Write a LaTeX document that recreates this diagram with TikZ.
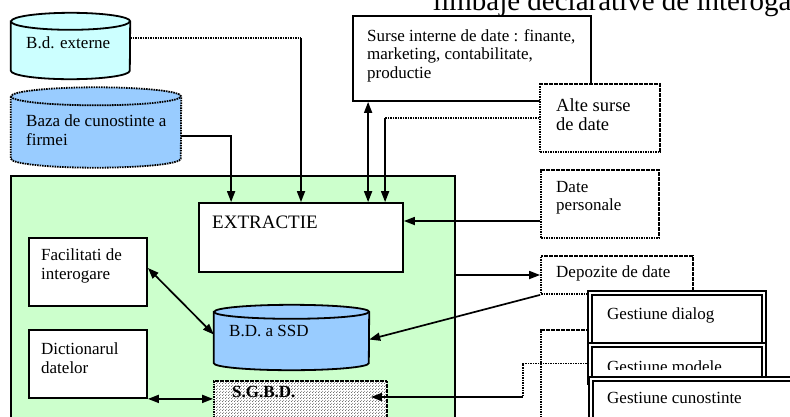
\documentclass[tikz,border=0pt]{standalone}
\usepackage{fontspec}
\setmainfont{Liberation Serif}
\usetikzlibrary{arrows.meta,patterns,calc}

\definecolor{dbcyan}{HTML}{CCFFFF}
\definecolor{dbblue}{HTML}{99CCFF}
\definecolor{ssdgreen}{HTML}{CCFFCC}

%% small dots for the S.G.B.D. block
\pgfdeclarepatternformonly{sgbddots}{\pgfpointorigin}{\pgfqpoint{3pt}{3pt}}{\pgfqpoint{3pt}{3pt}}{%
	\pgfpathcircle{\pgfqpoint{0.75pt}{0.75pt}}{0.6pt}
	\pgfpathcircle{\pgfqpoint{2.25pt}{2.25pt}}{0.6pt}
	\pgfusepath{fill}}

%% cylinder drawn round a rectangle node: node, y radius, half width, style
\newcommand{\dbdraw}[4]{%
	\draw[#4] ($(#1.north west)+(0,#2)$) -- ($(#1.south west)+(0,-#2)$)
		arc[start angle=180,end angle=0,x radius=#3,y radius=#2]
		-- ($(#1.north east)+(0,#2)$)
		arc[start angle=0,end angle=-180,x radius=#3,y radius=#2] -- cycle;
	\draw[#4,fill=none] ($(#1.north west)+(0,#2)$)
		arc[start angle=180,end angle=0,x radius=#3,y radius=#2];
}

\begin{document}
\begin{tikzpicture}[x=1pt,y=-1pt,
	box/.style={draw,line width=1.8pt,fill=white,inner sep=0pt},
	dbox/.style={box,dash pattern=on 1.6pt off 0.9pt},
	gbox/.style={draw,line width=1.5pt,double=white,double distance=2.2pt,inner sep=0pt},
	area/.style={inner sep=0pt},
	cyl/.style={draw,line width=1.8pt},
	txt/.style={anchor=west,align=left,inner sep=0pt,font=\fontsize{17}{18.5}\selectfont},
	big/.style={txt,font=\fontsize{19}{19}\selectfont},
	tip/.tip={Triangle[length=11pt,width=8pt]},
	arr/.style={-tip,line width=1.7pt},
	both/.style={tip-tip,line width=1.7pt},
	dsh/.style={line width=1.7pt,dash pattern=on 1.6pt off 0.9pt}]
	\useasboundingbox (0,0) rectangle (790,416);

	%%title line, cut at the top
	\node[anchor=base west,inner sep=0pt,font=\fontsize{29}{29}\selectfont] (title) at (433,10.5) {limbaje declarative de interogare};

	%%the two outside bases
	\node[area,minimum width=119pt,minimum height=66pt] (dbext) at (70.5,46) {};
	\dbdraw{dbext}{8.5}{59.5}{cyl,fill=dbcyan}
		\node[txt] (tdbext) at (26,43) {B.d. externe};
	\node[area,minimum width=170pt,minimum height=80pt] (kb) at (96,127.5) {};
	\dbdraw{kb}{9}{85}{cyl,fill=dbblue,dash pattern=on 1.6pt off 0.9pt}
		\node[txt] (tkb) at (26,130) {Baza de cunostinte a\\firmei};

	%%the SSD itself
	\node[box,fill=ssdgreen,minimum width=444pt,minimum height=260pt] (ssd) at (233,306) {};
	\node[box,minimum width=204pt,minimum height=69pt] (extr) at (301,237.5) {};
		\node[big] (textr) at (212,222) {EXTRACTIE};
	\node[box,minimum width=118pt,minimum height=68pt] (facil) at (88,272) {};
		\node[txt] (tfacil) at (41,266) {Facilitati de\\interogare};
	\node[box,minimum width=118pt,minimum height=68pt] (dict) at (88,364) {};
		\node[txt] (tdict) at (41,358) {Dictionarul\\datelor};
	\node[area,minimum width=155pt,minimum height=65pt] (bdssd) at (291.5,337.5) {};
	\dbdraw{bdssd}{7}{77.5}{cyl,fill=dbblue}
		\node[txt] (tbdssd) at (229,331) {B.D. a SSD};
	\node[dbox,preaction={fill=white},pattern=sgbddots,pattern color=black!75,minimum width=173pt,minimum height=44pt] (sgbd) at (300.5,403) {};
		\node[txt,font=\fontsize{17}{17}\selectfont\bfseries] (tsgbd) at (232,392) {S.G.B.D.};

	%%sources of data
	\node[box,minimum width=238pt,minimum height=85pt] (surse) at (472,58.5) {};
		\node[txt] (tsurse) at (367,55.5) {Surse interne de date : finante,\\marketing, contabilitate,\\productie};
	\node[dbox,minimum width=120pt,minimum height=68pt] (alte) at (600,118) {};
		\node[txt,font=\fontsize{18.5}{19}\selectfont] (talte) at (556,114.5) {Alte surse\\de date};
	\node[dbox,minimum width=118pt,minimum height=68pt] (pers) at (600,204) {};
		\node[txt] (tpers) at (556,197.5) {Date\\personale};
	\node[dbox,minimum width=152pt,minimum height=38pt] (depoz) at (617,275) {};
		\node[txt] (tdepoz) at (556,273) {Depozite de date};

	%%management blocks
	\node[dbox,minimum width=59pt,minimum height=106pt] (back) at (570.5,383) {};
	\node[gbox,fill=white,minimum width=174pt,minimum height=52pt] (gdial) at (677,319) {};
		\node[txt] (tgdial) at (607,315) {Gestiune dialog};
	\node[gbox,fill=white,minimum width=174pt,minimum height=37pt] (gmod) at (677,363.5) {};
	\begin{scope}
		\clip (gmod.north west) rectangle ($(gmod.south east)+(0,-13)$);
		\node[txt] (tgmod) at (607,367) {Gestiune modele};
	\end{scope}
	\node[gbox,fill=white,minimum width=220pt,minimum height=57pt] (gcun) at (701,407.5) {};
		\node[txt] (tgcun) at (607,398) {Gestiune cunostinte};

	%%draw the connectors
	\coordinate (p1) at ($(dbext.east)+(0,-8)$);
	\draw[dsh] (p1) -- (p1 -| extr.north);
	\draw[arr] (p1 -| extr.north) -- (extr.north);

	\coordinate (p2) at ($(kb.east)+(0,8.5)$);
	\coordinate (q2) at ($(extr.north west)+(33,0)$);
	\draw[arr] (p2) -| (q2);

	\coordinate (q3) at ($(surse.south west)+(16,0)$);
	\draw[both] (q3) -- (q3 |- extr.north);

	\coordinate (q4) at ($(extr.north west)+(187,0)$);
	\draw[dsh] (alte.west) -- (alte.west -| q4);
	\draw[arr] (alte.west -| q4) -- (q4);

	\coordinate (p5) at ($(pers.west)+(0,17)$);
	\draw[arr] (p5) -- (p5 -| extr.east);

	\draw[arr] (depoz.west -| ssd.east) -- (depoz.west);
	\draw[arr] (depoz.south west) -- ($(bdssd.east)+(0,2)$);

	\draw[both] ($(facil.east)+(0,-4)$) -- ($(bdssd.west)+(0,-3)$);
	\draw[both] (dict.south east) -- (dict.south east -| sgbd.west);

	\coordinate (k1) at (523,363.5);
	\coordinate (k2) at (523,397);
	\draw[dsh] (gmod.west) -- (k1) -- (k2);
	\draw[arr] (k2) -- ($(k2 -| sgbd.east)+(-17,0)$);
\end{tikzpicture}
\end{document}
